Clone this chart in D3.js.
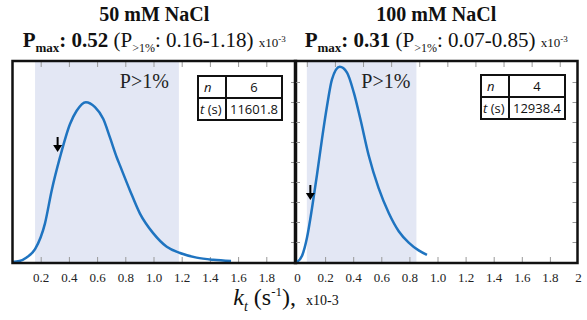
<!DOCTYPE html>
<html>
<head>
<meta charset="utf-8">
<script src="https://cdn.jsdelivr.net/npm/d3@7"></script>
<style>
  body { margin: 0; background: #fff; }
  svg { display: block; }
  .tick line { stroke: #999; stroke-width: 1; }
  .tick text { font-family: "Liberation Serif", serif; font-size: 13px; fill: #222; }
  .serif { font-family: "Liberation Serif", serif; }
  .sans { font-family: "Open Sans", sans-serif; }
</style>
</head>
<body>
<script>
// ---- data ----
var panelTitles = ["50 mM NaCl", "100 mM NaCl"];
var pMaxValues = ["0.52", "0.31"];
var rangeLo = [0.16, 0.07];
var rangeHi = [1.18, 0.85];
var nValues = ["6", "4"];
var tValues = ["11601.8", "12938.4"];

// rate constant kt (x10-3 s-1) and probability density (arbitrary units, 0-10)
var curve50k = [0, 0.05, 0.10, 0.16, 0.23, 0.278, 0.337, 0.408, 0.455, 0.52, 0.585, 0.644, 0.691, 0.739, 0.762, 0.833, 0.904, 0.999, 1.094, 1.188, 1.306, 1.424, 1.55];
var curve50p = [0, 0.05, 0.23, 0.64, 1.92, 3.58, 5.24, 6.9, 7.56, 7.99, 7.74, 7.15, 6.23, 5.24, 4.83, 3.58, 2.42, 1.43, 0.76, 0.45, 0.22, 0.11, 0.05];
var curve100k = [0, 0.036, 0.071, 0.107, 0.142, 0.178, 0.214, 0.249, 0.304, 0.356, 0.404, 0.451, 0.510, 0.581, 0.653, 0.724, 0.795, 0.866, 0.925];
var curve100p = [0, 0.31, 1.21, 2.70, 4.35, 6.16, 7.81, 9.13, 9.76, 9.47, 8.48, 7.15, 5.34, 3.69, 2.45, 1.54, 0.97, 0.58, 0.36];

var arrowK = [0.32, 0.095];
var arrowTipP = [5.5, 3.1];

var tickMarks = [0.2, 0.4, 0.6, 0.8, 1.0, 1.2, 1.4, 1.6, 1.8];
var labels50 = [0.2, 0.4, 0.6, 0.8, 1.0, 1.2, 1.4, 1.6, 1.8];
var labels100 = [0, 0.2, 0.4, 0.6, 0.8, 1.0, 1.2, 1.4, 1.6, 1.8, 2];
var topTicks50 = [0.2, 0.4, 0.6, 0.8, 1.0, 1.2, 1.4, 1.6, 1.8];
var topTicks100 = [0.07, 0.27, 0.47, 0.67, 0.87, 1.07, 1.27, 1.47, 1.67, 1.87];
var yTicks = [1, 2, 3, 4, 5, 6, 7, 8, 9];

// ---- layout ----
var width = 587, height = 320,
    plotTop = 61, plotBottom = 263,
    blue = "#1f74c0",
    shade = "#e3e7f4";

var panels = [
  {left: 12.5, right: 296, x0: 12.5, x1: 294.5, k: curve50k, p: curve50p, labels: labels50, topTicks: topTicks50, leftTicks: false, tableRight: 282, tableTop: 76, pLabelShift: 10},
  {left: 295, right: 577.5, x0: 297, x1: 578, k: curve100k, p: curve100p, labels: labels100, topTicks: topTicks100, leftTicks: true, tableRight: 565, tableTop: 75, pLabelShift: 6}
];

var svg = d3.select("body").append("svg")
    .attr("width", width)
    .attr("height", height);

var y = d3.scaleLinear().domain([0, 10]).range([262, 62]);

var fmt = function(d) { return (d === 0 || d === 2) ? d : d.toFixed(1); };

panels.forEach(function(pn, i) {
  var x = d3.scaleLinear().domain([0, 2]).range([pn.x0, pn.x1]);
  var g = svg.append("g").attr("class", "panel");

  // P>1% band
  g.append("rect")
    .attr("x", x(rangeLo[i]))
    .attr("y", plotTop)
    .attr("width", x(rangeHi[i]) - x(rangeLo[i]))
    .attr("height", plotBottom - plotTop)
    .attr("fill", shade);

  // inner ticks
  var bx = g.append("g").attr("transform", "translate(0," + plotBottom + ")")
    .call(d3.axisBottom(x).tickValues(tickMarks).tickSize(-6).tickFormat(""));
  bx.select(".domain").remove();

  var bl = g.append("g").attr("transform", "translate(0," + plotBottom + ")")
    .call(d3.axisBottom(x).tickValues(pn.labels).tickSize(0).tickPadding(10).tickFormat(fmt));
  bl.select(".domain").remove();

  var tx = g.append("g").attr("transform", "translate(0," + plotTop + ")")
    .call(d3.axisTop(x).tickValues(pn.topTicks).tickSize(-6).tickFormat(""));
  tx.select(".domain").remove();

  var ry = g.append("g").attr("transform", "translate(" + pn.right + ",0)")
    .call(d3.axisRight(y).tickValues(yTicks).tickSize(-5).tickFormat(""));
  ry.select(".domain").remove();

  if (pn.leftTicks) {
    var ly = g.append("g").attr("transform", "translate(" + pn.left + ",0)")
      .call(d3.axisLeft(y).tickValues(yTicks).tickSize(-5).tickFormat(""));
    ly.select(".domain").remove();
  }

  // density curve
  var pts = pn.k.map(function(k, j) { return [k, pn.p[j]]; });
  var line = d3.line()
    .x(function(d) { return x(d[0]); })
    .y(function(d) { return y(d[1]); })
    .curve(d3.curveMonotoneX);
  g.append("path")
    .datum(pts)
    .attr("d", line)
    .attr("fill", "none")
    .attr("stroke", blue)
    .attr("stroke-width", 2.5);

  // arrow
  var ax = x(arrowK[i]), ay = y(arrowTipP[i]);
  g.append("line")
    .attr("x1", ax).attr("x2", ax)
    .attr("y1", ay - 15).attr("y2", ay - 5)
    .attr("stroke", "#000").attr("stroke-width", 2);
  g.append("path")
    .attr("d", "M" + (ax - 4.5) + "," + (ay - 7) + "L" + (ax + 4.5) + "," + (ay - 7) + "L" + ax + "," + ay + "Z")
    .attr("fill", "#000");

  // P>1% label
  g.append("text")
    .attr("class", "serif")
    .attr("x", x(rangeHi[i]) - pn.pLabelShift)
    .attr("y", 88)
    .attr("text-anchor", "end")
    .attr("font-size", 20)
    .attr("fill", "#222")
    .text("P>1%");

  // frame
  g.append("rect")
    .attr("x", pn.left).attr("y", plotTop)
    .attr("width", pn.right - pn.left)
    .attr("height", plotBottom - plotTop)
    .attr("fill", "none")
    .attr("stroke", "#111")
    .attr("stroke-width", 2.5);

  // n / t table
  var tw = 84, c1 = 28, rh = 22,
      tl = pn.tableRight - tw, tt = pn.tableTop;
  var tb = g.append("g").attr("class", "sans").attr("font-size", 13).attr("fill", "#111");
  tb.append("rect").attr("x", tl).attr("y", tt).attr("width", tw).attr("height", 2 * rh)
    .attr("fill", "#fff").attr("stroke", "#111").attr("stroke-width", 2);
  tb.append("line").attr("x1", tl).attr("x2", tl + tw).attr("y1", tt + rh).attr("y2", tt + rh)
    .attr("stroke", "#111").attr("stroke-width", 2);
  tb.append("line").attr("x1", tl + c1).attr("x2", tl + c1).attr("y1", tt).attr("y2", tt + 2 * rh)
    .attr("stroke", "#111").attr("stroke-width", 2);
  tb.append("text").attr("x", tl + 6).attr("y", tt + 16).attr("font-style", "italic").text("n");
  tb.append("text").attr("x", tl + c1 + (tw - c1) / 2).attr("y", tt + 16).attr("text-anchor", "middle").text(nValues[i]);
  var tt2 = tb.append("text").attr("x", tl + 2).attr("y", tt + rh + 16);
  tt2.append("tspan").attr("font-style", "italic").text("t");
  tt2.append("tspan").text(" (s)");
  tb.append("text").attr("x", tl + c1 + (tw - c1) / 2).attr("y", tt + rh + 16).attr("text-anchor", "middle").text(tValues[i]);

  // titles
  var cx = (pn.left + pn.right) / 2;
  svg.append("text")
    .attr("class", "serif")
    .attr("x", cx).attr("y", 21)
    .attr("text-anchor", "middle")
    .attr("font-size", 20)
    .attr("font-weight", "bold")
    .attr("fill", "#111")
    .text(panelTitles[i]);

  var t2 = svg.append("text")
    .attr("class", "serif")
    .attr("x", cx).attr("y", 47)
    .attr("text-anchor", "middle")
    .attr("font-size", 21)
    .attr("fill", "#111");
  t2.append("tspan").attr("font-weight", "bold").text("P");
  t2.append("tspan").attr("font-weight", "bold").attr("font-size", 13).attr("dy", 5).text("max");
  t2.append("tspan").attr("font-weight", "bold").attr("dy", -5).text(": " + pMaxValues[i] + " ");
  t2.append("tspan").text("(P");
  t2.append("tspan").attr("font-size", 12).attr("dy", 5).text(">1%");
  t2.append("tspan").attr("dy", -5).text(": " + rangeLo[i].toFixed(2) + "-" + rangeHi[i].toFixed(2) + ") ");
  t2.append("tspan").attr("font-size", 13).text("x10");
  t2.append("tspan").attr("font-size", 9).attr("dy", -5).text("-3");
});

// axis title
var at = svg.append("text")
  .attr("class", "serif")
  .attr("x", 286).attr("y", 305)
  .attr("text-anchor", "middle")
  .attr("font-size", 24)
  .attr("fill", "#111");
at.append("tspan").attr("font-style", "italic").text("k");
at.append("tspan").attr("font-style", "italic").attr("font-size", 14).attr("dy", 6).text("t");
at.append("tspan").attr("dy", -6).text(" (s");
at.append("tspan").attr("font-size", 13).attr("dy", -9).text("-1");
at.append("tspan").attr("dy", 9).text("),");
at.append("tspan").attr("font-size", 14).attr("dx", 10).text("x10-3");
</script>
</body>
</html>
